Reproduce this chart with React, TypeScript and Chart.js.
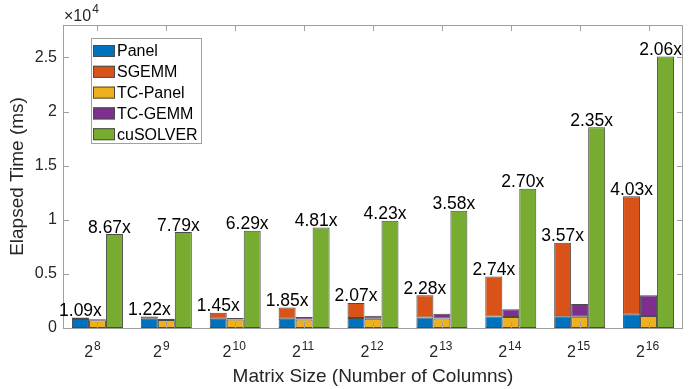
import React, { useEffect, useRef } from "react";
import { Chart, registerables } from "chart.js";

Chart.register(...registerables);

// Matrix size = 2^exponent
const exponents = ["8", "9", "10", "11", "12", "13", "14", "15", "16"];
const seriesNames = ["Panel", "SGEMM", "TC-Panel", "TC-GEMM", "cuSOLVER"];
const panel = [830, 860, 860, 860, 926, 981, 1074, 1080, 1231];
const sgemm = [130, 200, 550, 1040, 1389, 2038, 3676, 6790, 10954];
const tcPanel = [720, 730, 780, 790, 861, 880, 1019, 1040, 1111];
const tcGemm = [100, 120, 150, 220, 269, 444, 703, 1170, 1908];
const cusolver = [8676, 8861, 8981, 9287, 9907, 10833, 12870, 18546, 25093];
const mixedSpeedup = ["1.09x", "1.22x", "1.45x", "1.85x", "2.07x", "2.28x", "2.74x", "3.57x", "4.03x"];
const solverSpeedup = ["8.67x", "7.79x", "6.29x", "4.81x", "4.23x", "3.58x", "2.70x", "2.35x", "2.06x"];
const yTickValues = [0, 5000, 10000, 15000, 20000, 25000];

const FONT = "'Liberation Sans', Arial, Helvetica, sans-serif";
const COLORS = ["#0072BD", "#D95319", "#EDB120", "#7E2F8E", "#77AC30"];
const EDGE = "#4a4a4a";
const AXIS = "#a0a0a0";
const TEXT = "#262626";

const decorPlugin = {
  id: "decor",
  afterDraw(chart: any) {
    const { ctx, chartArea } = chart;
    const { left, right, top, bottom } = chartArea;
    const xs = chart.scales.x;
    const ys = chart.scales.y;
    ctx.save();

    // axes box
    ctx.strokeStyle = AXIS;
    ctx.lineWidth = 1;
    ctx.strokeRect(Math.round(left) + 0.5, Math.round(top) + 0.5, Math.round(right - left) - 1, Math.round(bottom - top));

    // inward ticks
    ctx.beginPath();
    yTickValues.forEach((v) => {
      const y = Math.round(ys.getPixelForValue(v)) + 0.5;
      ctx.moveTo(left, y);
      ctx.lineTo(left + 6, y);
      ctx.moveTo(right, y);
      ctx.lineTo(right - 6, y);
    });
    exponents.forEach((_, i) => {
      const x = Math.round(xs.getPixelForValue(i)) + 0.5;
      ctx.moveTo(x, bottom);
      ctx.lineTo(x, bottom - 6);
      ctx.moveTo(x, top);
      ctx.lineTo(x, top + 6);
    });
    ctx.stroke();

    // x tick labels 2^n
    ctx.fillStyle = TEXT;
    ctx.textBaseline = "alphabetic";
    ctx.textAlign = "left";
    exponents.forEach((e, i) => {
      const x = xs.getPixelForValue(i);
      ctx.font = `16px ${FONT}`;
      const bw = ctx.measureText("2").width;
      ctx.font = `12px ${FONT}`;
      const ew = ctx.measureText(e).width;
      const total = bw + 1 + ew;
      const start = x - total / 2 + (e.length === 1 ? -5 : -1);
      ctx.font = `16px ${FONT}`;
      ctx.fillText("2", start, bottom + 28.5);
      ctx.font = `12px ${FONT}`;
      ctx.fillText(e, start + bw + 1, bottom + 22);
    });

    // x10^4 multiplier
    ctx.font = `16px ${FONT}`;
    ctx.fillText("\u00d710", left + 1, top - 4.5);
    const mw = ctx.measureText("\u00d710").width;
    ctx.font = `12px ${FONT}`;
    ctx.fillText("4", left + 2 + mw, top - 12.5);

    // data labels
    ctx.fillStyle = "#000";
    ctx.font = `17.5px ${FONT}`;
    ctx.textAlign = "center";
    const m1 = chart.getDatasetMeta(1);
    const m4 = chart.getDatasetMeta(4);
    exponents.forEach((_, i) => {
      const b1 = m1.data[i];
      const b4 = m4.data[i];
      ctx.fillText(mixedSpeedup[i], b1.x, b1.y - 1.5);
      ctx.fillText(solverSpeedup[i], b4.x - 5, b4.y - 1.5);
    });

    // legend
    const lx = left + 28;
    const ly = top + 13;
    const lw = 111;
    const lh = 106;
    ctx.fillStyle = "#fff";
    ctx.fillRect(lx, ly, lw, lh);
    ctx.strokeStyle = AXIS;
    ctx.strokeRect(lx + 0.5, ly + 0.5, lw - 1, lh - 1);
    ctx.font = `16px ${FONT}`;
    ctx.textAlign = "left";
    ctx.textBaseline = "middle";
    chart.data.datasets.forEach((ds: any, k: number) => {
      const cy = ly + 13 + k * 20.8;
      ctx.fillStyle = ds.backgroundColor;
      ctx.fillRect(lx + 2, cy - 6, 22, 12);
      ctx.strokeStyle = EDGE;
      ctx.strokeRect(lx + 2.5, cy - 5.5, 21, 11);
      ctx.fillStyle = "#000";
      ctx.fillText(ds.label, lx + 26, cy + 1);
    });
    ctx.restore();
  },
};

export default function App() {
  const ref = useRef<HTMLCanvasElement | null>(null);
  useEffect(() => {
    if (!ref.current) return;
    const common = {
      borderColor: EDGE,
      borderWidth: 1,
      borderSkipped: false,
      categoryPercentage: 0.74,
      barPercentage: 1,
    };
    const chart = new Chart(ref.current, {
      type: "bar",
      data: {
        labels: exponents.map((e) => "2^" + e),
        datasets: [
          { ...common, label: seriesNames[0], data: panel, backgroundColor: COLORS[0], stack: "s1" },
          { ...common, label: seriesNames[1], data: sgemm, backgroundColor: COLORS[1], stack: "s1" },
          { ...common, label: seriesNames[2], data: tcPanel, backgroundColor: COLORS[2], stack: "s2" },
          { ...common, label: seriesNames[3], data: tcGemm, backgroundColor: COLORS[3], stack: "s2" },
          { ...common, label: seriesNames[4], data: cusolver, backgroundColor: COLORS[4], stack: "s3" },
        ] as any,
      },
      options: {
        animation: false,
        responsive: true,
        maintainAspectRatio: false,
        layout: { padding: { top: 25, right: 9, left: 0, bottom: 0 } },
        plugins: { legend: { display: false }, tooltip: { enabled: false } },
        scales: {
          x: {
            stacked: true,
            grid: { display: false },
            border: { display: false },
            ticks: { display: false },
            title: {
              display: true,
              text: "Matrix Size (Number of Columns)",
              font: { family: FONT, size: 19 },
              color: TEXT,
              padding: { top: 0, bottom: 1 },
            },
            afterFit: (s: any) => {
              s.height = 61;
            },
          },
          y: {
            stacked: true,
            min: 0,
            max: 28000,
            grid: { display: false, drawTicks: false },
            border: { display: false },
            ticks: {
              padding: 6,
              color: TEXT,
              font: { family: FONT, size: 16 },
              callback: (v: any) => String(Number(v) / 10000),
            },
            afterBuildTicks: (s: any) => {
              s.ticks = yTickValues.map((v) => ({ value: v }));
            },
            title: {
              display: true,
              text: "Elapsed Time (ms)",
              font: { family: FONT, size: 19 },
              color: TEXT,
              padding: { top: 6, bottom: 0 },
            },
            afterFit: (s: any) => {
              s.width = 63;
            },
          },
        },
      } as any,
      plugins: [decorPlugin],
    });
    return () => chart.destroy();
  }, []);
  return (
    <div style={{ position: "fixed", left: 0, top: 0, width: 692, height: 389, background: "#fff" }}>
      <canvas ref={ref} />
    </div>
  );
}
